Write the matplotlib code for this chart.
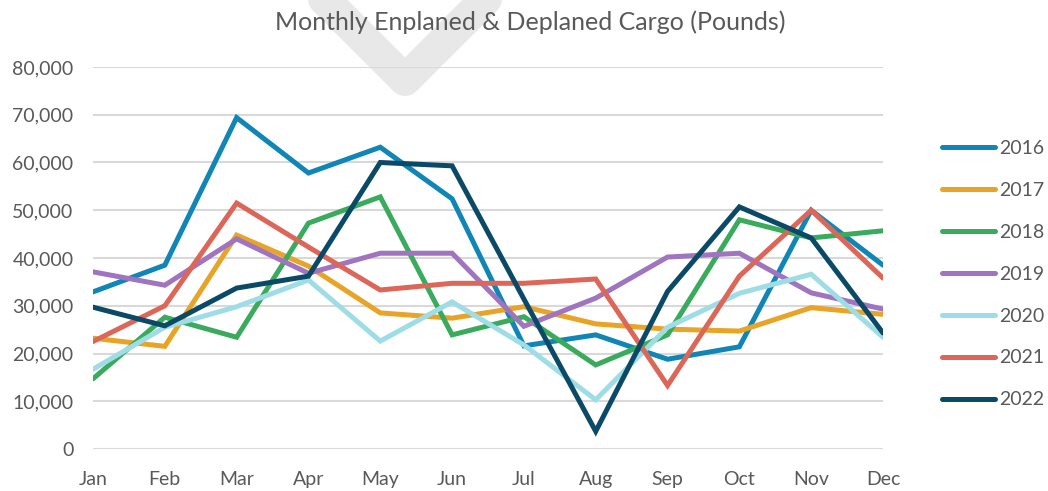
import numpy as np
import matplotlib.pyplot as plt
from matplotlib.lines import Line2D
from matplotlib.ticker import FuncFormatter

months = ['Jan', 'Feb', 'Mar', 'Apr', 'May', 'Jun', 'Jul', 'Aug', 'Sep', 'Oct', 'Nov', 'Dec']
years = ['2016', '2017', '2018', '2019', '2020', '2021', '2022']

cargo_2016 = [32900, 38500, 69400, 57800, 63200, 52400, 21600, 23900, 18800, 21400, 50000, 38500]
cargo_2017 = [23200, 21500, 44800, 38300, 28500, 27400, 29800, 26200, 25100, 24700, 29600, 28200]
cargo_2018 = [14700, 27600, 23400, 47300, 52800, 23900, 27700, 17600, 23900, 48000, 44200, 45700]
cargo_2019 = [37100, 34300, 44000, 36800, 41000, 41000, 25700, 31600, 40200, 41000, 32700, 29300]
cargo_2020 = [16700, 25500, 29800, 35400, 22600, 30800, 21800, 10300, 25500, 32600, 36600, 23400]
cargo_2021 = [22500, 30000, 51500, 42300, 33300, 34700, 34700, 35600, 13300, 36200, 50000, 35800]
cargo_2022 = [29700, 25800, 33700, 36200, 60000, 59300, 31400, 3700, 33000, 50700, 44200, 24300]

series = [cargo_2016, cargo_2017, cargo_2018, cargo_2019, cargo_2020, cargo_2021, cargo_2022]
colors = ['#0f86b6', '#e7a427', '#3aab5c', '#a074be', '#9fdde6', '#dc6658', '#0b4a67']

plt.rcParams['font.family'] = ['Lato', 'DejaVu Sans']
W, H = 1048, 491
fig = plt.figure(figsize=(W / 100, H / 100), dpi=100)
ax = fig.add_axes([93 / W, 1 - 449 / H, (883 - 93) / W, (449 - 67) / H])
ax.set_facecolor('none')

# grey chevron watermark behind the chart
wm = Line2D([290 / W, 405 / W, 520 / W], [1 + 35 / H, 1 - 80 / H, 1 + 35 / H],
            transform=fig.transFigure, color='#e8e8e8', lw=23,
            solid_joinstyle='round', solid_capstyle='round', zorder=-1)
fig.add_artist(wm)

x = np.arange(len(months))
for yr, vals, c in zip(years, series, colors):
    ax.plot(x, vals, color=c, lw=3.6, label=yr, solid_joinstyle='miter',
            solid_capstyle='round')

ax.set_xlim(0, 11)
ax.set_ylim(0, 80000)
ax.set_yticks(np.arange(0, 80001, 10000))
ax.yaxis.set_major_formatter(FuncFormatter(lambda v, p: f'{int(v):,}'))
ax.set_xticks(x)
ax.set_xticklabels(months)
ax.grid(axis='y', color='#d9d9d9', lw=1.5)
ax.set_axisbelow(True)
for s in ax.spines.values():
    s.set_visible(False)
ax.tick_params(length=0, labelsize=14, colors='#595959')
ax.tick_params(axis='x', pad=16)
ax.tick_params(axis='y', pad=14)

fig.text(530 / W, 1 - 22 / H, 'Monthly Enplaned & Deplaned Cargo (Pounds)',
         ha='center', va='center', fontsize=18, color='#595959')

leg = fig.legend(loc='upper left', bbox_to_anchor=(942 / W, 1 - 140 / H), frameon=False,
                 borderpad=0, borderaxespad=0, fontsize=14, handlelength=2.7,
                 handletextpad=0.25, labelspacing=1.28)
for t in leg.get_texts():
    t.set_color('#595959')

fig.savefig('out.png', dpi=100)
